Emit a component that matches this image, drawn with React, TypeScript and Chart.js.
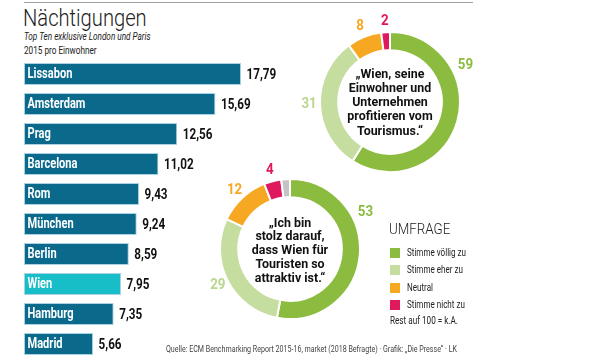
import React, { useEffect, useRef } from "react";
import { Chart, registerables } from "chart.js";

Chart.register(...registerables);

const cities = ["Lissabon", "Amsterdam", "Prag", "Barcelona", "Rom", "München", "Berlin", "Wien", "Hamburg", "Madrid"];
const nights = [17.79, 15.69, 12.56, 11.02, 9.43, 9.24, 8.59, 7.95, 7.35, 5.66];
const highlightCity = "Wien";

const surveyCategories = ["Stimme völlig zu", "Stimme eher zu", "Neutral", "Stimme nicht zu", "k.A."];
const surveyColors = ["#8cbc3f", "#c5dd9f", "#f7a823", "#e0195f", "#c3c3c6"];
const question1 = ["„Wien, seine", "Einwohner und", "Unternehmen", "profitieren vom", "Tourismus.“"];
const answers1 = [59, 31, 8, 2];
const question2 = ["„Ich bin", "stolz darauf,", "dass Wien für", "Touristen so", "attraktiv ist.“"];
const answers2 = [53, 29, 12, 4, 2];

const FONT = 'Roboto, "Liberation Sans", sans-serif';
const BAR = "#0b6a8b";
const BAR_HL = "#17bec8";
const DEG = Math.PI / 180;

const fmt = (v: number) => v.toFixed(2).replace(".", ",");

function narrowText(ctx: CanvasRenderingContext2D, text: string, x: number, y: number, scale: number) {
  ctx.save();
  ctx.translate(x, y);
  ctx.scale(scale, 1);
  ctx.fillText(text, 0, 0);
  ctx.restore();
}

const barLabelPlugin = {
  id: "barLabels",
  afterDatasetsDraw(chart: any) {
    const ctx = chart.ctx;
    const meta = chart.getDatasetMeta(0);
    ctx.save();
    ctx.textBaseline = "middle";
    ctx.textAlign = "left";
    meta.data.forEach((bar: any, i: number) => {
      const { x, y, base } = bar.getProps(["x", "y", "base"], true);
      ctx.font = `bold 14px ${FONT}`;
      ctx.fillStyle = "#ffffff";
      narrowText(ctx, cities[i], base + 3.5, y + 0.5, 0.79);
      ctx.fillStyle = "#111111";
      ctx.font = `bold 15px ${FONT}`;
      narrowText(ctx, fmt(nights[i]), x + 5.5, y + 1, 0.78);
    });
    ctx.restore();
  },
};

const donutLabelPlugin = {
  id: "donutLabels",
  afterDatasetsDraw(chart: any) {
    const ctx = chart.ctx;
    const meta = chart.getDatasetMeta(0);
    const data = chart.data.datasets[0].data as number[];
    ctx.save();
    ctx.textBaseline = "middle";
    ctx.textAlign = "center";
    ctx.font = `bold 14.5px ${FONT}`;
    meta.data.forEach((arc: any, i: number) => {
      if (surveyCategories[i] === "k.A.") return;
      const { x, y, startAngle, endAngle, outerRadius } = arc.getProps(
        ["x", "y", "startAngle", "endAngle", "outerRadius"],
        true
      );
      const span = endAngle - startAngle;
      const big = span > Math.PI;
      const a = big ? startAngle + 64 * DEG : startAngle + span / 2;
      const r = outerRadius + (big ? 14 : 11);
      ctx.fillStyle = i === 1 ? "#b9d68f" : surveyColors[i];
      narrowText(ctx, String(data[i]), x + Math.cos(a) * r, y + Math.sin(a) * r, 0.92);
    });
    ctx.restore();
  },
};

function BarChart() {
  const ref = useRef<HTMLCanvasElement>(null);
  useEffect(() => {
    const chart = new Chart(ref.current!, {
      type: "bar",
      data: {
        labels: cities,
        datasets: [
          {
            data: nights,
            backgroundColor: cities.map((c) => (c === highlightCity ? BAR_HL : BAR)),
            borderColor: "#a9d2e2",
            borderWidth: 1,
            borderSkipped: false,
            barPercentage: 0.74,
            categoryPercentage: 1,
          },
        ],
      },
      options: {
        indexAxis: "y",
        responsive: false,
        animation: false,
        layout: { padding: 0 },
        scales: {
          x: { display: false, min: 0, max: 280 / 12.2 },
          y: { display: false },
        },
        plugins: { legend: { display: false }, tooltip: { enabled: false } },
      },
      plugins: [barLabelPlugin],
    });
    return () => chart.destroy();
  }, []);
  return (
    <canvas
      ref={ref}
      width={280}
      height={300}
      style={{ position: "absolute", left: 24, top: 59, width: 280, height: 300 }}
    />
  );
}

function Donut({ values, cx, cy }: { values: number[]; cx: number; cy: number }) {
  const ref = useRef<HTMLCanvasElement>(null);
  const size = 200;
  useEffect(() => {
    const chart = new Chart(ref.current!, {
      type: "doughnut",
      data: {
        labels: surveyCategories.slice(0, values.length),
        datasets: [
          {
            data: values,
            backgroundColor: surveyColors.slice(0, values.length),
            borderColor: "#ffffff",
            borderWidth: 2,
          },
        ],
      },
      options: {
        responsive: false,
        animation: false,
        cutout: "74%",
        layout: { padding: 29 },
        plugins: { legend: { display: false }, tooltip: { enabled: false } },
      },
      plugins: [donutLabelPlugin],
    });
    return () => chart.destroy();
  }, []);
  return (
    <canvas
      ref={ref}
      width={size}
      height={size}
      style={{ position: "absolute", left: cx - size / 2, top: cy - size / 2, width: size, height: size }}
    />
  );
}

type TxtProps = {
  x: number;
  top: number;
  size: number;
  lh: number;
  scale: number;
  weight?: number | string;
  italic?: boolean;
  color?: string;
  children: React.ReactNode;
};

function Txt({ x, top, size, lh, scale, weight = 400, italic, color = "#222", children }: TxtProps) {
  return (
    <div
      style={{
        position: "absolute",
        left: x,
        top,
        whiteSpace: "nowrap",
        font: `${italic ? "italic " : ""}${weight} ${size}px/${lh}px ${FONT}`,
        color,
        transform: `scaleX(${scale})`,
        transformOrigin: "left top",
      }}
    >
      {children}
    </div>
  );
}

function CenterText({ lines, cx, top, lh }: { lines: string[]; cx: number; top: number; lh: number }) {
  return (
    <div
      style={{
        position: "absolute",
        left: cx - 80,
        top,
        width: 160,
        textAlign: "center",
        font: `bold 13.5px/${lh}px ${FONT}`,
        color: "#111",
        transform: "scaleX(0.92)",
        transformOrigin: "center top",
      }}
    >
      {lines.map((l, i) => (
        <div key={i}>{l}</div>
      ))}
    </div>
  );
}

export default function App() {
  return (
    <div
      style={{
        position: "absolute",
        left: 0,
        top: 0,
        width: 600,
        height: 360,
        background: "#fff",
        overflow: "hidden",
        fontFamily: FONT,
      }}
    >
      <div style={{ position: "absolute", left: 24, top: 2, width: 449, height: 1, background: "#a0a0a0" }} />
      <Txt x={23} top={4} size={24} lh={28} scale={0.84} weight={300} color="#222">
        Nächtigungen
      </Txt>
      <Txt x={24} top={30} size={10.5} lh={13} scale={0.78} italic>
        Top Ten exklusive London und Paris
      </Txt>
      <Txt x={24} top={44} size={10.5} lh={13} scale={0.78}>
        2015 pro Einwohner
      </Txt>
      <BarChart />
      <Donut values={answers1} cx={390} cy={102} />
      <Donut values={answers2} cx={290} cy={249} />
      <CenterText lines={question1} cx={390} top={65.5} lh={14.3} />
      <CenterText lines={question2} cx={290} top={215.5} lh={13.8} />
      <Txt x={389} top={220} size={15} lh={18} scale={0.89} weight={300}>
        UMFRAGE
      </Txt>
      {surveyCategories.slice(0, 4).map((c, i) => (
        <div
          key={c}
          style={{ position: "absolute", left: 390, top: 248 + i * 17.3, width: 10, height: 10, background: surveyColors[i] }}
        />
      ))}
      {surveyCategories.slice(0, 4).map((c, i) => (
        <Txt key={c} x={406.5} top={246} size={11.5} lh={13} scale={0.7}>
          <span style={{ position: "relative", top: i * 17.3 }}>{c}</span>
        </Txt>
      ))}
      <Txt x={390} top={314} size={11} lh={13} scale={0.74}>
        Rest auf 100 = k.A.
      </Txt>
      <Txt x={166} top={343} size={9.5} lh={11} scale={0.745} color="#444">
        Quelle: ECM Benchmarking Report 2015-16, market (2018 Befragte) · Grafik: „Die Presse“ · LK
      </Txt>
    </div>
  );
}
